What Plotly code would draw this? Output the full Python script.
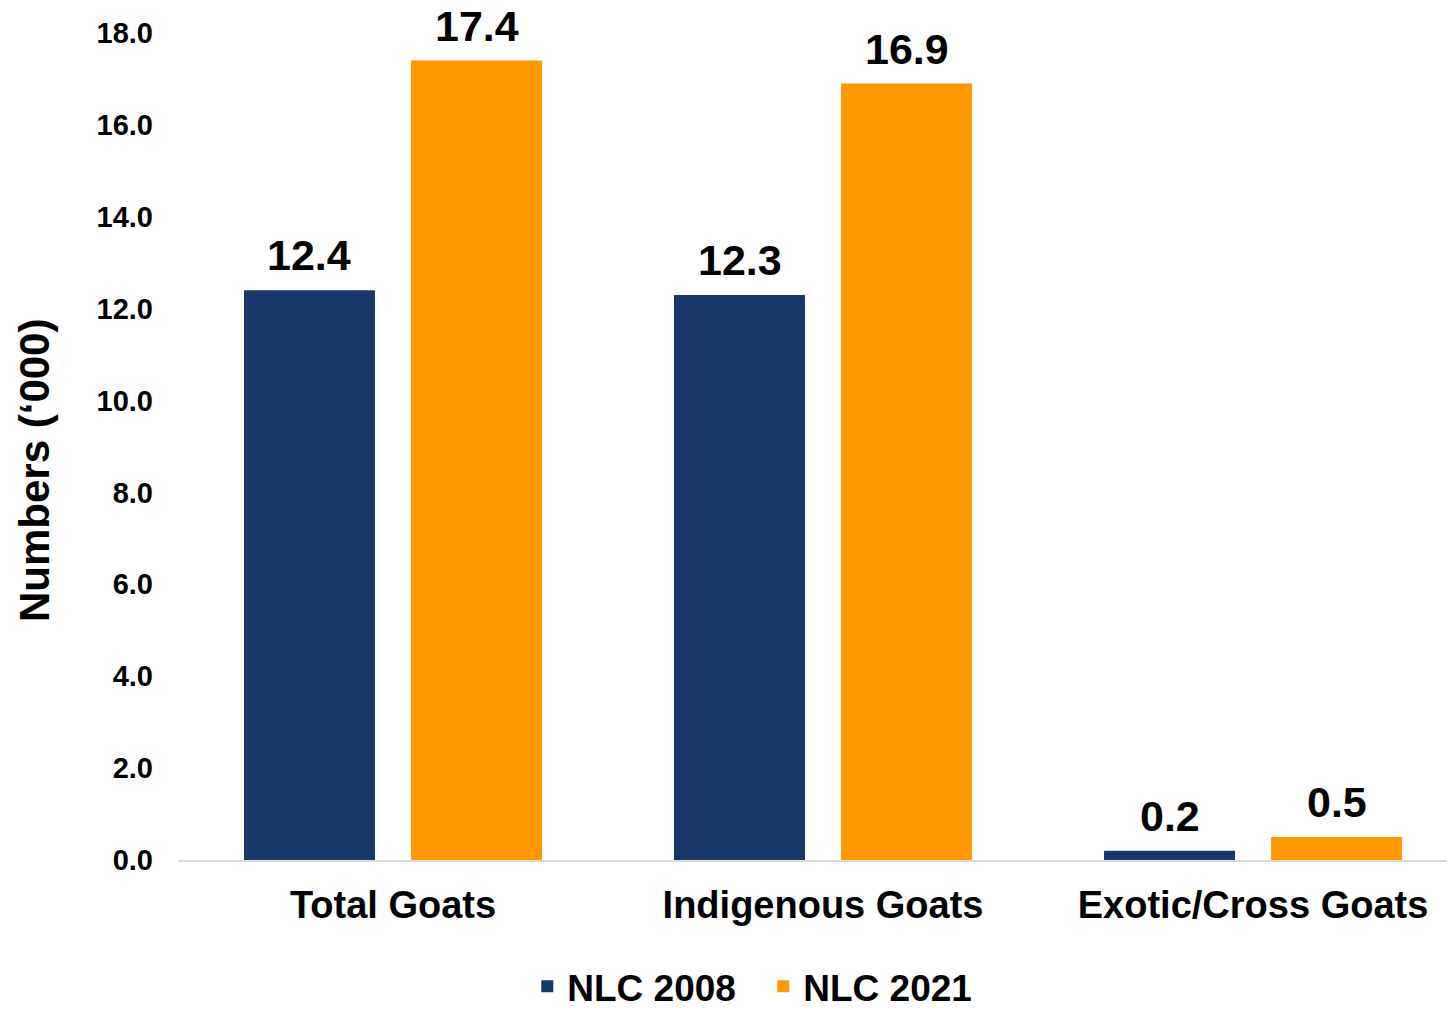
import plotly.graph_objects as go

categories = ["Total Goats", "Indigenous Goats", "Exotic/Cross Goats"]
nlc_2008 = [12.4, 12.3, 0.2]
nlc_2021 = [17.4, 16.9, 0.5]
series_names = ["NLC 2008", "NLC 2021"]
y_ticks = [0, 2, 4, 6, 8, 10, 12, 14, 16, 18]
y_title = "Numbers (‘000)"

FONT = "Liberation Sans, Arial, sans-serif"
colors = ["#17386B", "#FF9900"]
BARGAP = 0.223

fig = go.Figure()
series = [nlc_2008, nlc_2021]
for name, vals, c in zip(series_names, series, colors):
    fig.add_trace(go.Bar(
        name=f"<b>{name}</b>", x=categories, y=vals, marker=dict(color=c, line=dict(width=0)),
    ))

# value labels above each bar (placed at each bar's slot centre in the group)
n = len(series)
slot = (1 - BARGAP) / n
for i, vals in enumerate(series):
    off = -(1 - BARGAP) / 2 + slot * (i + 0.5)
    for j, v in enumerate(vals):
        fig.add_annotation(
            x=j + off, y=v, xref="x", yref="y", text=f"<b>{v:.1f}</b>",
            showarrow=False, xanchor="center", yanchor="bottom", yshift=9,
            font=dict(family=FONT, size=43, color="black"),
        )

fig.add_annotation(
    text=f"<b>{y_title}</b>", textangle=-90, showarrow=False,
    xref="paper", yref="paper", x=-0.1127, y=0.4716,
    xanchor="center", yanchor="middle",
    font=dict(family=FONT, size=42, color="black"),
)

fig.update_layout(
    width=1447, height=1010,
    margin=dict(l=178, r=0, t=33, b=150),
    paper_bgcolor="white", plot_bgcolor="white",
    barmode="group", bargap=BARGAP, bargroupgap=0.216,
    font=dict(family=FONT, color="black"),
    showlegend=True,
    legend=dict(orientation="h", xref="container", yref="container",
                x=0.5275, xanchor="center", y=0.023, yanchor="middle",
                font=dict(family=FONT, size=37, color="black"),
                itemwidth=30, entrywidth=191, traceorder="normal"),
    xaxis=dict(showgrid=False, showline=True, linecolor="#D9D9D9", linewidth=2,
               automargin=False, range=[-0.5, 2.451],
               ticks="", tickfont=dict(family=FONT, size=38, color="black"),
               tickvals=categories, ticktext=[f"<b>{c}</b>" for c in categories],
               ticklabelstandoff=10),
    yaxis=dict(range=[0, 18], showgrid=False, showline=False, zeroline=False,
               automargin=False,
               tickvals=y_ticks, ticktext=[f"<b>{v:.1f}</b>" for v in y_ticks],
               tickfont=dict(family=FONT, size=29, color="black"),
               ticklabelstandoff=24),
)

fig.write_html("out.html", config={"displayModeBar": False},
               post_script="document.body.style.margin='0';document.body.style.overflow='hidden';")
